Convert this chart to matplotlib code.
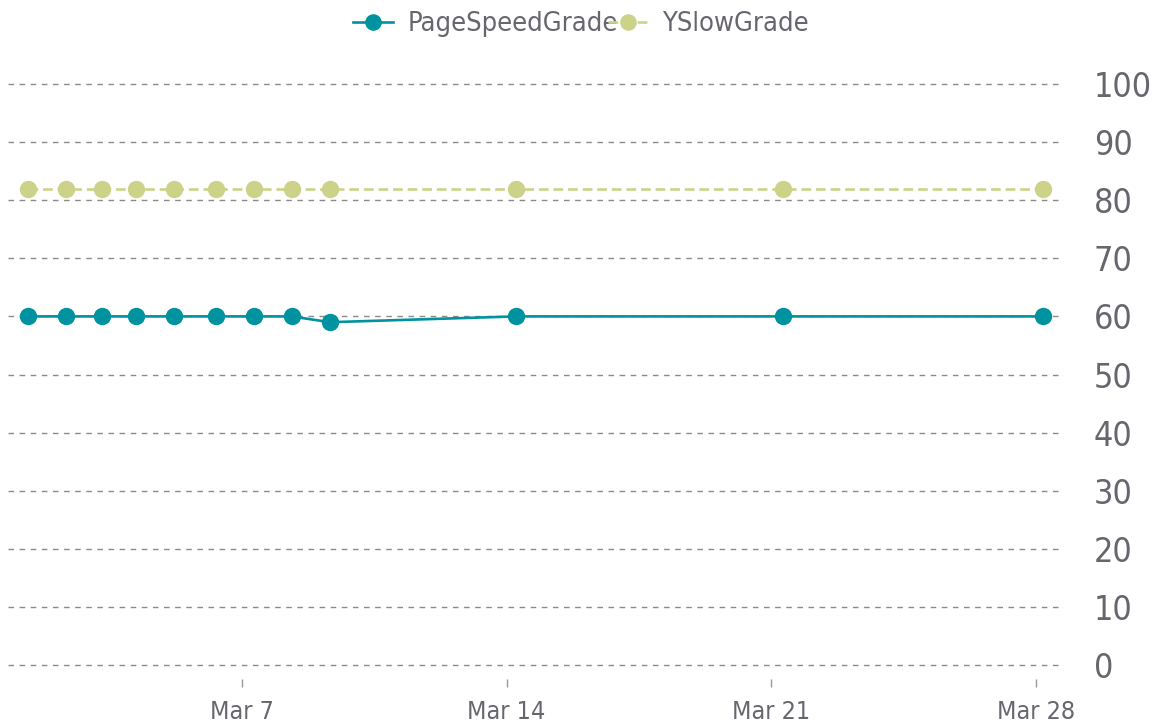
import matplotlib
matplotlib.use("Agg")
import matplotlib.pyplot as plt
import matplotlib.dates as mdates
from datetime import datetime

# ---- data ----
dates = [
    "2015-03-01 08:18", "2015-03-02 08:12", "2015-03-03 07:15", "2015-03-04 04:41",
    "2015-03-05 04:38", "2015-03-06 07:29", "2015-03-07 07:48", "2015-03-08 07:34",
    "2015-03-09 07:52", "2015-03-14 06:00", "2015-03-21 07:40", "2015-03-28 04:45",
]
page_speed = [60, 60, 60, 60, 60, 60, 60, 60, 59, 60, 60, 60]
yslow = [82, 82, 82, 82, 82, 82, 82, 82, 82, 82, 82, 82]
y_ticks = [0, 10, 20, 30, 40, 50, 60, 70, 80, 90, 100]
x_ticks = ["2015-03-07", "2015-03-14", "2015-03-21", "2015-03-28"]
series_names = ["PageSpeedGrade", "YSlowGrade"]

x = [datetime.strptime(d, "%Y-%m-%d %H:%M") for d in dates]
xt = [datetime.strptime(d, "%Y-%m-%d") for d in x_ticks]

plt.rcParams["font.family"] = ["DejaVu Sans"]
plt.rcParams["font.stretch"] = "condensed"
plt.rcParams["lines.scale_dashes"] = False

TEXT = "#66666e"
TEAL = "#00929e"
OLIVE = "#ccd389"

fig = plt.figure(figsize=(11.62, 7.25), dpi=100)
ax = fig.add_axes([8 / 1162, (725 - 679) / 725, (1062 - 8) / 1162, (679 - 60) / 725])

ax.plot(x, page_speed, color=TEAL, lw=1.9, marker="o", ms=11.5, mec=TEAL, mfc=TEAL,
        label=series_names[0], zorder=3, clip_on=False)
ax.plot(x, yslow, color=OLIVE, lw=1.9, ls=(0, (7, 3.5)), marker="o", ms=11.5,
        mec=OLIVE, mfc=OLIVE, label=series_names[1], zorder=3, clip_on=False)

x0 = mdates.date2num(datetime(2015, 3, 7))
ppd = 37.79
ax.set_xlim(x0 - 234 / ppd, x0 + 820 / ppd)
ax.set_ylim(-14 / 5.81, 100 + 24 / 5.81)

ax.set_yticks(y_ticks)
ax.yaxis.tick_right()
ax.tick_params(axis="y", length=0, pad=23, labelsize=24.5, labelcolor=TEXT)
ax.set_xticks(xt)
ax.xaxis.set_major_formatter(mdates.DateFormatter("%b %-d"))
ax.tick_params(axis="x", length=6, width=1, color="#999999", pad=9, labelsize=18,
               labelcolor=TEXT)

for s in ax.spines.values():
    s.set_visible(False)
ax.grid(axis="y", color="#8a8a8a", lw=1.0, ls=(0, (4, 4)))
ax.grid(axis="x", visible=False)
ax.set_axisbelow(True)

leg = fig.legend(loc="upper center", bbox_to_anchor=(0.5, 1.018), ncol=2, frameon=False,
                 fontsize=19.5, labelcolor=TEXT, handlelength=1.48, handletextpad=0.52,
                 columnspacing=-0.37, markerscale=0.95)

fig.savefig("out.png", dpi=100)
